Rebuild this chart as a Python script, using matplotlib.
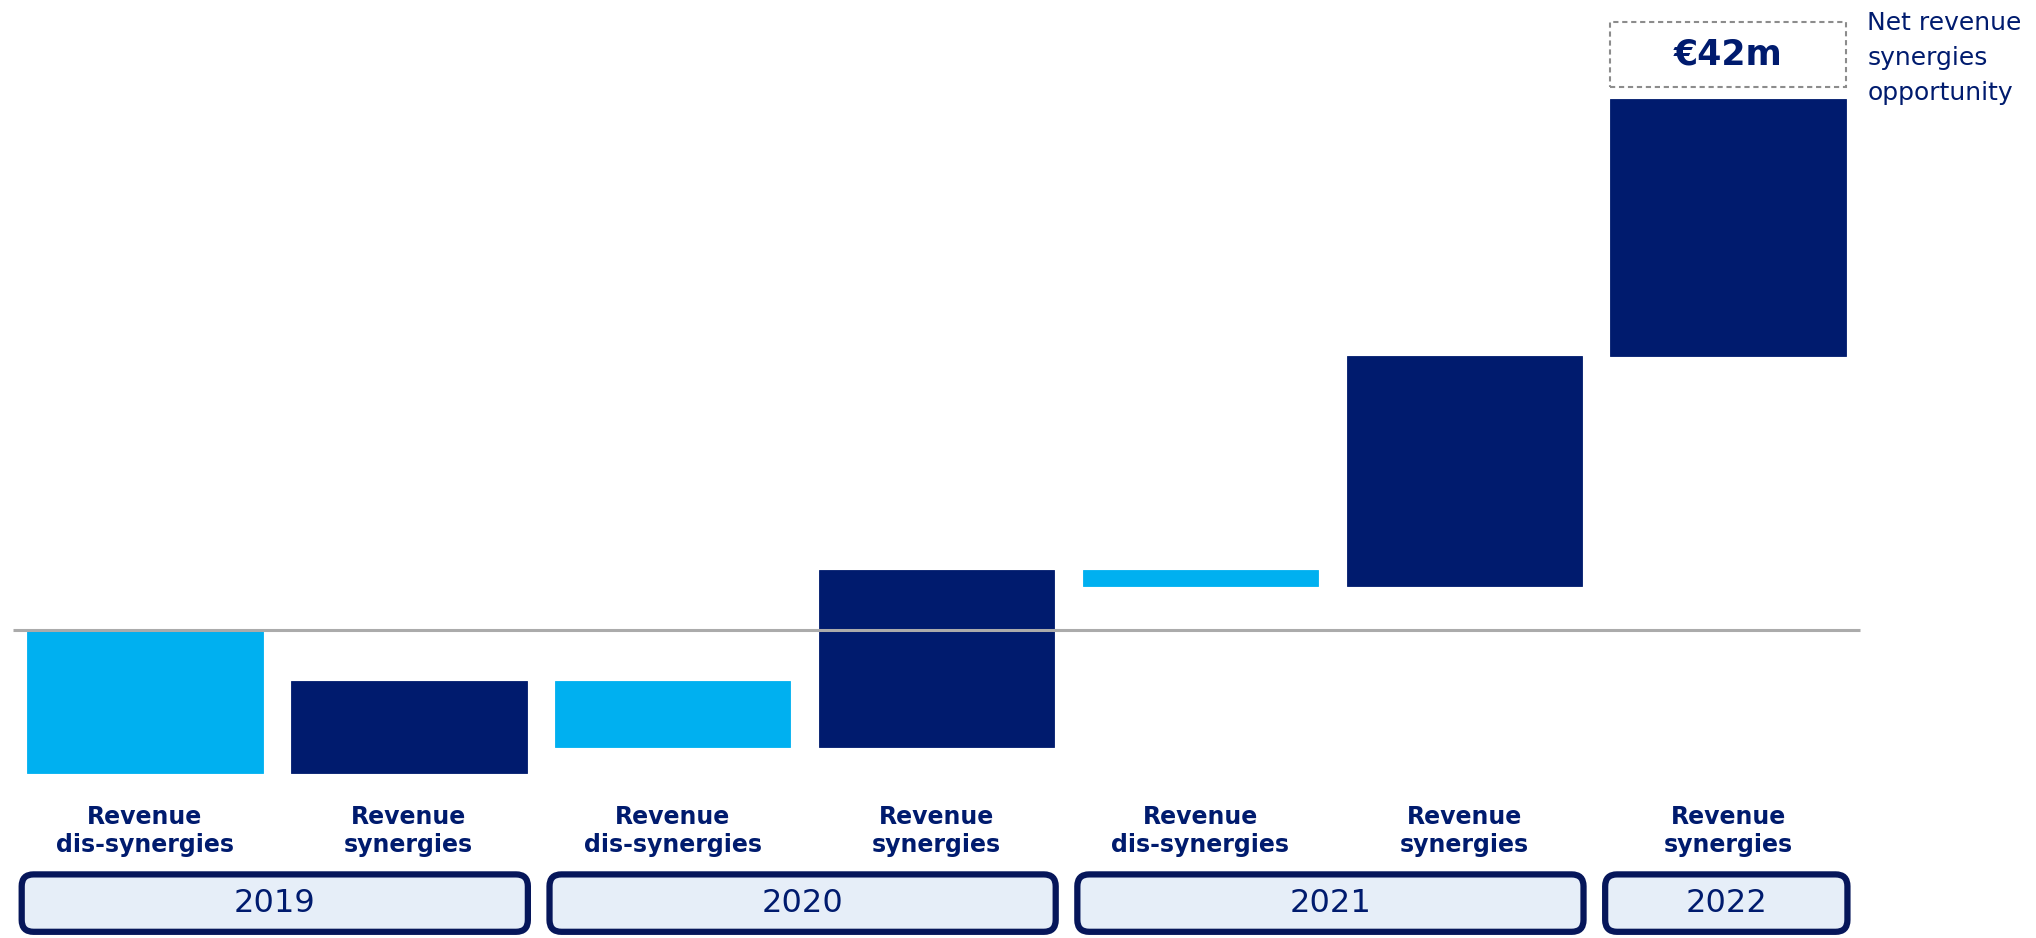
import numpy as np
import matplotlib
matplotlib.use("Agg")
import matplotlib.pyplot as plt
from matplotlib import transforms
from matplotlib.patches import FancyBboxPatch, Rectangle

# Net revenue synergy bridge, EUR m
labels = ["Revenue\ndis-synergies", "Revenue\nsynergies",
          "Revenue\ndis-synergies", "Revenue\nsynergies",
          "Revenue\ndis-synergies", "Revenue\nsynergies",
          "Revenue\nsynergies"]
values = [-11.3, 7.3, -5.2, 14.0, -1.3, 18.2, 20.3]
year_of_bar = [0, 0, 1, 1, 2, 2, 3]
years = ["2019", "2020", "2021", "2022"]

NAVY = "#001B6E"
LIGHT = "#00B0F0"
BOX_EDGE = "#06165A"
BOX_FILL = "#E6EEF8"

plt.rcParams['font.family'] = ['DejaVu Sans']

fig = plt.figure(figsize=(20.36, 9.38), dpi=100)
ax = fig.add_axes([0, 0, 1, 1])
ax.axis('off')
ax.set_xlim(-0.5487, 7.166)
ax.set_ylim(-24.34, 49.85)

x = np.arange(len(values))
vals = np.array(values)
ends = np.cumsum(vals)
starts = ends - vals
total = ends[-1]
width = 0.893
colors = [LIGHT if v < 0 else NAVY for v in vals]

ax.bar(x, vals, bottom=starts, width=width, color=colors,
       edgecolor=colors, linewidth=0.6, zorder=2)

# zero line
ax.hlines(0, -0.5, 6.5, color="#ABABAB", linewidth=2.2, zorder=3)

# x in data, y in axes fraction for the labels underneath
trans = transforms.blended_transform_factory(ax.transData, ax.transAxes)
for xi, lab in zip(x, labels):
    ax.text(xi, 0.114, lab, transform=trans, ha='center', va='center',
            fontsize=17, fontweight='bold', color=NAVY, linespacing=1.25)

# year boxes under each group of bars
box_bottom, box_top = 0.0066, 0.0678
for i, yr in enumerate(years):
    xs = x[np.array(year_of_bar) == i]
    left = xs.min() - width / 2 - 0.02
    right = xs.max() + width / 2 + 0.005
    box = FancyBboxPatch((left, box_bottom), right - left, box_top - box_bottom,
                         boxstyle="round,pad=0,rounding_size=0.045",
                         mutation_aspect=263.9 / 938,
                         transform=trans, facecolor=BOX_FILL,
                         edgecolor=BOX_EDGE, linewidth=4.5, clip_on=False)
    ax.add_patch(box)
    ax.text((left + right) / 2, (box_bottom + box_top) / 2, yr, transform=trans,
            ha='center', va='center', fontsize=23, color=NAVY)

# total callout above the last bar
last = x[-1]
ax.add_patch(Rectangle((last - width / 2, total + 1.0), width, 5.1,
                       fill=False, edgecolor="#8C8C8C", linewidth=1.5,
                       linestyle=(0, (2.5, 1.8)), zorder=3))
ax.text(last, total + 3.55, f"€{total:.0f}m", ha='center', va='center',
        fontsize=25, fontweight='bold', color=NAVY)
ax.text(last + width / 2 + 0.08, 49.0, "Net revenue\nsynergies\nopportunity",
        ha='left', va='top', fontsize=18, color=NAVY, linespacing=1.58)

fig.savefig("out.png", dpi=100)
